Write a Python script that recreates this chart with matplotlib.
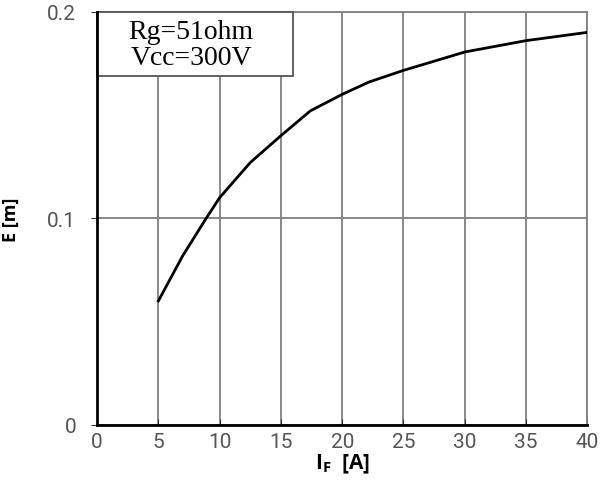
import numpy as np
import matplotlib
matplotlib.use('Agg')
import matplotlib.pyplot as plt
from matplotlib.patches import Rectangle

# switching energy vs forward current
current = [5, 7, 8.9, 10, 12.5, 15, 17.4, 20, 22.2, 25, 30, 35, 40]
energy = [0.060, 0.082, 0.100, 0.110, 0.127, 0.140, 0.152, 0.160, 0.166,
          0.1716, 0.1805, 0.186, 0.190]

x_ticks = [0, 5, 10, 15, 20, 25, 30, 35, 40]
y_ticks = [0, 0.1, 0.2]
y_tick_labels = ['0', '0.1', '0.2']
box_lines = ['Rg=51ohm', 'Vcc=300V']

fig = plt.figure(figsize=(6.03, 4.89), dpi=100)
ax = fig.add_axes([0.161, 0.129, 0.813, 0.845])

ax.plot(current, energy, color='black', lw=2.0, zorder=3,
        solid_joinstyle='round')

ax.set_xlim(0, 40)
ax.set_ylim(0, 0.2)
ax.set_xticks(x_ticks)
ax.set_yticks(y_ticks)
ax.set_yticklabels(y_tick_labels)
ax.grid(True, color='#808080', lw=1.3)
ax.set_axisbelow(True)

for side in ['top', 'right']:
    ax.spines[side].set_color('#808080')
    ax.spines[side].set_linewidth(1.3)
for side in ['left', 'bottom']:
    ax.spines[side].set_color('black')
    ax.spines[side].set_linewidth(2.0)
    ax.spines[side].set_zorder(7)

ax.tick_params(axis='x', direction='in', length=4, colors='#333333',
               labelsize=15, labelcolor='#555555', pad=5)
ax.tick_params(axis='y', direction='out', length=4, colors='#333333',
               labelsize=15, labelcolor='#555555', pad=11)
for lab in ax.get_xticklabels() + ax.get_yticklabels():
    lab.set_family('Roboto')

ax.set_xlabel('I$_\\mathregular{F}$  [A]', fontsize=15, fontweight='bold',
              family='Open Sans', labelpad=1)
ax.set_ylabel('E [m]', fontsize=13, fontweight='bold', family='Open Sans')
ax.yaxis.set_label_coords(-0.158, 0.5)

# legend-like box in the upper left corner
ax.add_patch(Rectangle((0, 0.844), 0.4, 0.156, transform=ax.transAxes,
                       fc='white', ec='#555555', lw=1.3, zorder=5,
                       clip_on=False))
ax.text(0.192, 0.936, box_lines[0], transform=ax.transAxes, fontsize=20,
        family='Liberation Serif', ha='center', va='baseline', zorder=6)
ax.text(0.192, 0.874, box_lines[1], transform=ax.transAxes, fontsize=20,
        family='Liberation Serif', ha='center', va='baseline', zorder=6)

fig.savefig('out.png', dpi=100)
